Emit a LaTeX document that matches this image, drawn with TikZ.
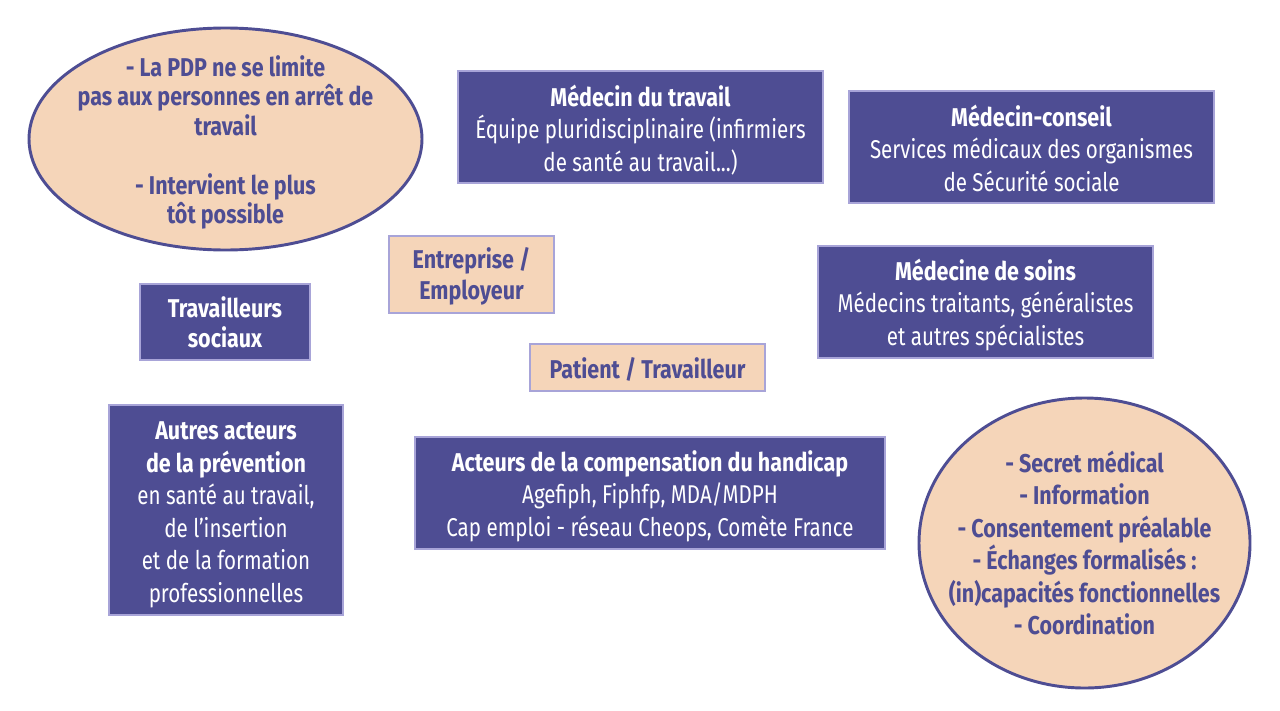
\documentclass[tikz,border=0pt]{standalone}
\usepackage{fontspec}
\setmainfont[FakeStretch=0.8, BoldFeatures={FakeStretch=0.835}]{Fira Sans}
\usetikzlibrary{shapes.geometric}
\definecolor{darkv}{HTML}{4E4D93}
\definecolor{lav}{HTML}{A8A4D8}
\definecolor{peach}{HTML}{F5D5B9}
\tikzset{
  darkbox/.style={rectangle, fill=darkv, draw=lav, line width=2pt, inner sep=0pt},
  peachbox/.style={rectangle, fill=peach, draw=lav, line width=2pt, inner sep=0pt},
  wtext/.style={text=white, align=center, inner sep=0pt, font=\fontsize{19.3}{24.4}\selectfont},
  ptext/.style={text=darkv, align=center, inner sep=0pt, font=\fontsize{19.3}{24.4}\selectfont\bfseries},
  oval/.style={ellipse, fill=peach, draw=darkv, line width=2.2pt, inner sep=0pt}
}
\begin{document}
\begin{tikzpicture}[x=0.75pt,y=-0.75pt]
\useasboundingbox (0,0) rectangle (1280,710);
\fill[white] (0,0) rectangle (1280,710);

% ellipses
\node[oval, minimum width=393*0.75pt, minimum height=222*0.75pt] (e1) at (225.5,139) {};
\node[ptext, font=\fontsize{19.3}{22.1}\selectfont\bfseries] (e1t) at ([yshift=-2.6pt]e1.center) {- La PDP ne se limite\\pas aux personnes en arrêt de\\travail\\[22.1pt]- Intervient le plus\\tôt possible};

\node[oval, minimum width=331*0.75pt, minimum height=290*0.75pt] (e2) at (1084.5,543) {};
\node[ptext] (e2t) at (e2.center) {- Secret médical\\- Information\\- Consentement préalable\\- Échanges formalisés :\\(in)capacités fonctionnelles\\- Coordination};

% dark boxes
\node[darkbox, minimum width=365*0.75pt, minimum height=112*0.75pt] (mt) at (640.5,127) {};
\node[wtext] (mtt) at ([yshift=-2.2pt]mt.center)
  {\textbf{Médecin du travail}\\Équipe pluridisciplinaire (infirmiers\\de santé au travail...)};
\node[darkbox, minimum width=365*0.75pt, minimum height=112*0.75pt] (mc) at (1031.5,147) {};
\node[wtext] (mct) at ([yshift=-0.8pt]mc.center)
  {\textbf{Médecin-conseil}\\Services médicaux des organismes\\de Sécurité sociale};
\node[darkbox, minimum width=335*0.75pt, minimum height=112*0.75pt] (ms) at (985.5,302) {};
\node[wtext] (mst) at ([yshift=-2.2pt]ms.center)
  {\textbf{Médecine de soins}\\Médecins traitants, généralistes\\et autres spécialistes};
\node[darkbox, minimum width=170*0.75pt, minimum height=76*0.75pt] (ts) at (225,322) {};
\node[wtext, font=\fontsize{19.3}{22.5}\selectfont\bfseries] (tst) at ([yshift=-0.4pt]ts.center)
  {Travailleurs\\sociaux};
\node[darkbox, minimum width=234*0.75pt, minimum height=210*0.75pt] (aa) at (226,510) {};
\node[wtext] (aat) at ([yshift=-3.6pt]aa.center)
  {\textbf{Autres acteurs}\\\textbf{de la prévention}\\en santé au travail,\\de l’insertion\\et de la formation\\professionnelles};
\node[darkbox, minimum width=470*0.75pt, minimum height=112*0.75pt] (ac) at (650,493) {};
\node[wtext] (act) at ([yshift=-2.2pt]ac.center)
  {\textbf{Acteurs de la compensation du handicap}\\Agefiph, Fiphfp, MDA/MDPH\\Cap emploi - réseau Cheops, Comète France};

% peach boxes
\node[peachbox, minimum width=165*0.75pt, minimum height=77*0.75pt] (ent) at (471.5,274.5) {};
\node[ptext, font=\fontsize{19.3}{23.2}\selectfont\bfseries] (entt) at ([yshift=-1.6pt]ent.center)
  {Entreprise /\\Employeur};
\node[peachbox, minimum width=235*0.75pt, minimum height=47*0.75pt] (pt) at (647.5,367.5) {};
\node[ptext] (ptt) at ([yshift=-1.2pt]pt.center) {Patient / Travailleur};
\end{tikzpicture}
\end{document}
